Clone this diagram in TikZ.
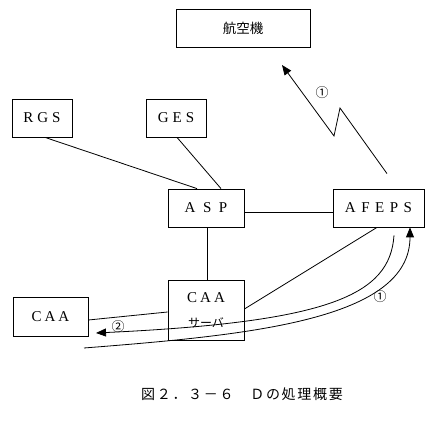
\documentclass[tikz,border=0pt]{standalone}
\usepackage{fontspec}
\setmainfont{Liberation Serif}
\newfontfamily\jpfont{Noto Sans CJK JP}
\newfontfamily\capfont[LetterSpace=12]{Noto Sans CJK JP}
\usetikzlibrary{arrows.meta,calc}
\newcommand\gap[1]{\hspace{#1pt}}
\begin{document}
\begin{tikzpicture}[x=1pt,y=-1pt,
  box/.style={draw,line width=0.8pt,rectangle,inner sep=0pt,font=\fontsize{15}{17}\selectfont},
  conn/.style={line width=0.8pt},
  arr/.style={line width=0.8pt,-{Triangle[length=10pt,width=8pt]}},
  lbl/.style={font=\jpfont\fontsize{13}{14}\selectfont,inner sep=0pt}]
\useasboundingbox (0,0) rectangle (440,427);
\node[box,minimum width=134pt,minimum height=38pt] (plane) at (243,28) {\jpfont\fontsize{13.5}{15}\selectfont 航空機};
\node[box,minimum width=60pt,minimum height=38pt] (rgs) at (42,118) {R\gap{4}G\gap{4}S};
\node[box,minimum width=60pt,minimum height=38pt] (ges) at (176,118) {G\gap{4}E\gap{4}S};
\node[box,minimum width=76pt,minimum height=38pt] (asp) at (206,208) {A\gap{7.5}S\gap{7.5}P};
\node[box,minimum width=91pt,minimum height=38pt] (afeps) at (378.5,208) {A\gap{5.5}F\gap{5.5}E\gap{5.5}P\gap{5.5}S};
\node[box,minimum width=76pt,minimum height=60pt] (srv) at (206,310) {};
\node[font=\fontsize{15}{17}\selectfont,inner sep=0pt] (srvt1) at (206,298) {C\gap{3}A\gap{3}A};
\node[font=\jpfont\fontsize{12}{14}\selectfont,inner sep=0pt] (srvt2) at (206,323) {サーバ};
\node[box,minimum width=75pt,minimum height=39pt] (caa) at (50.5,316.5) {C\gap{3}A\gap{3}A};
% connectors
\draw[conn] ($(rgs.south)+(3,0)$) -- ($(asp.north)+(-9,0)$);
\draw[conn] ($(ges.south)+(1,0)$) -- ($(asp.north)+(15,0)$);
\draw[conn] ($(asp.east)+(0,4)$) -- ($(afeps.west)+(0,4)$);
\draw[conn] ($(asp.south)+(1,0)$) -- ($(srv.north)+(1,0)$);
\draw[conn] ($(caa.east)+(0,3.5)$) -- ($(srv.west)+(0,2)$);
\draw[conn] ($(afeps.south)+(-1.5,0)$) -- ($(srv.east)+(0,-1)$);
% radio link
\coordinate (z0) at ($(afeps.north)+(8.5,-15)$);
\coordinate (z1) at (340,108);
\coordinate (z2) at (334,136);
\coordinate (z3) at (282,65);
\draw[arr] (z0) -- (z1) -- (z2) -- (z3);
\node[lbl] (l1a) at (322,93) {①};
% curve 2 (AFEPS -> CAA)
\coordinate (c2s) at ($(afeps.south)+(15.5,8)$);
\coordinate (c2e) at (96,333);
\draw[arr] (c2s) .. controls (390,295) and (330,322) .. (c2e);
\node[lbl] (l2) at (118,327) {②};
% curve 1 (-> AFEPS)
\coordinate (c1s) at (84,348);
\draw[arr] (c1s) .. controls (250,335) and (410,320) .. ($(afeps.south)+(31.5,0)$);
\node[lbl] (l1b) at (380,297) {①};
% caption
\node[font=\capfont\fontsize{14}{16}\selectfont,inner sep=0pt] (cap) at (242,394) {図２．３－６\hspace{1.2em}Ｄの処理概要};
\end{tikzpicture}
\end{document}
